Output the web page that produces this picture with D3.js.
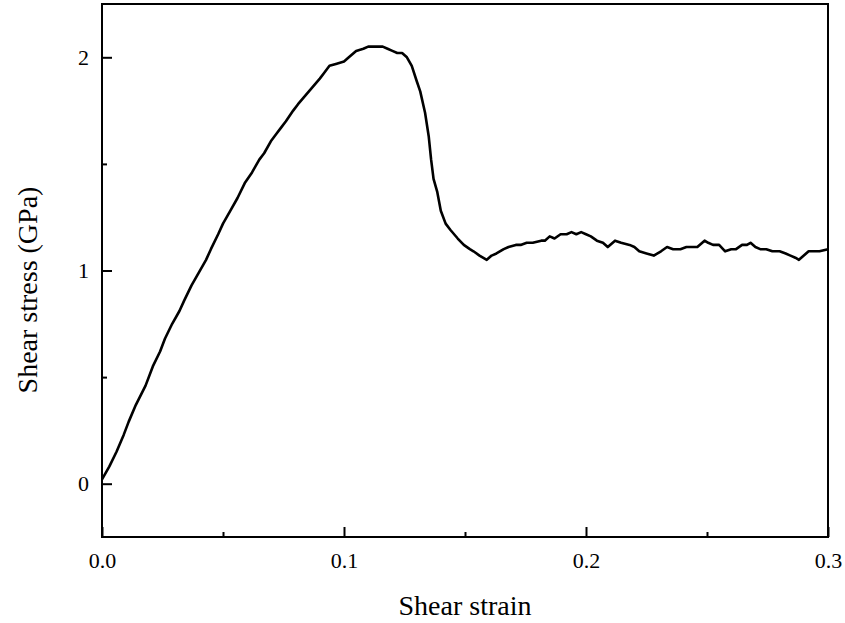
<!DOCTYPE html>
<html>
<head>
<meta charset="utf-8">
<script src="https://cdn.jsdelivr.net/npm/d3@7"></script>
<style>
  body { margin: 0; background: #fff; }
  svg text { font-family: 'Liberation Serif', serif !important; fill: #000; }
</style>
</head>
<body>
<div id="container"></div>
<script>
/* CONSTANTS AND GLOBALS */
const width = 845,
  height = 623;
const margin = { top: 4, right: 17, bottom: 86, left: 102 };
const serif = "'Liberation Serif', serif";

/* DATA */
const strain = [
  0.000, 0.003, 0.006, 0.009, 0.011, 0.014, 0.018, 0.021, 0.024, 0.026,
  0.029, 0.032, 0.034, 0.037, 0.040, 0.043, 0.045, 0.048, 0.050, 0.053,
  0.056, 0.059, 0.062, 0.065, 0.067, 0.070, 0.072, 0.074, 0.076, 0.079,
  0.081, 0.084, 0.087, 0.090, 0.092, 0.094, 0.097, 0.100, 0.102, 0.105,
  0.108, 0.110, 0.112, 0.114, 0.116, 0.118, 0.120, 0.122, 0.124, 0.126,
  0.128, 0.130, 0.1315, 0.1335, 0.135, 0.136, 0.137, 0.1385, 0.140, 0.142,
  0.144, 0.147, 0.1495, 0.152, 0.1535, 0.156, 0.159, 0.161, 0.163, 0.166,
  0.168, 0.171, 0.173, 0.1755, 0.178, 0.1815, 0.183, 0.185, 0.187, 0.1895,
  0.192, 0.194, 0.196, 0.198, 0.200, 0.202, 0.2045, 0.207, 0.209, 0.212,
  0.2145, 0.218, 0.220, 0.222, 0.225, 0.228, 0.231, 0.2335, 0.236, 0.239,
  0.2415, 0.244, 0.246, 0.249, 0.2505, 0.2525, 0.255, 0.2575, 0.260, 0.262,
  0.2645, 0.2665, 0.268, 0.270, 0.272, 0.2745, 0.277, 0.280, 0.2825, 0.2845,
  0.2865, 0.288, 0.290, 0.292, 0.294, 0.2965, 0.300
];
const stress = [
  0.02, 0.08, 0.15, 0.23, 0.29, 0.37, 0.46, 0.55, 0.62, 0.68,
  0.75, 0.81, 0.86, 0.93, 0.99, 1.05, 1.10, 1.17, 1.22, 1.28,
  1.34, 1.41, 1.46, 1.52, 1.55, 1.61, 1.64, 1.67, 1.70, 1.75,
  1.78, 1.82, 1.86, 1.90, 1.93, 1.96, 1.97, 1.98, 2.00, 2.03,
  2.04, 2.05, 2.05, 2.05, 2.05, 2.04, 2.03, 2.02, 2.02, 2.00,
  1.96, 1.89, 1.84, 1.74, 1.63, 1.52, 1.43, 1.37, 1.28, 1.22,
  1.19, 1.15, 1.12, 1.10, 1.09, 1.07, 1.05, 1.07, 1.08, 1.10,
  1.11, 1.12, 1.12, 1.13, 1.13, 1.14, 1.14, 1.16, 1.15, 1.17,
  1.17, 1.18, 1.17, 1.18, 1.17, 1.16, 1.14, 1.13, 1.11, 1.14,
  1.13, 1.12, 1.11, 1.09, 1.08, 1.07, 1.09, 1.11, 1.10, 1.10,
  1.11, 1.11, 1.11, 1.14, 1.13, 1.12, 1.12, 1.09, 1.10, 1.10,
  1.12, 1.12, 1.13, 1.11, 1.10, 1.10, 1.09, 1.09, 1.08, 1.07,
  1.06, 1.05, 1.07, 1.09, 1.09, 1.09, 1.10
];
const xTicks = [0, 0.1, 0.2, 0.3];
const xMinorTicks = [0.05, 0.15, 0.25];
const yTicks = [0, 1, 2];
const yMinorTicks = [0.5, 1.5];

/* SCALES */
const xScale = d3.scaleLinear()
  .domain([0, 0.3])
  .range([margin.left, width - margin.right]);

const yScale = d3.scaleLinear()
  .domain([-0.25, 2.25])
  .range([height - margin.bottom, margin.top]);

// SVG
const svg = d3.select("#container")
  .append("svg")
  .attr("width", width)
  .attr("height", height);

svg.append("rect")
  .attr("width", width)
  .attr("height", height)
  .attr("fill", "#fff");

// Axes (ticks point inward)
const xAxis = d3.axisBottom(xScale)
  .tickValues(xTicks)
  .tickSize(-10)
  .tickPadding(15)
  .tickFormat(d3.format(".1f"));

const xMinor = d3.axisBottom(xScale)
  .tickValues(xMinorTicks)
  .tickSize(-5)
  .tickFormat("");

const yAxis = d3.axisLeft(yScale)
  .tickValues(yTicks)
  .tickSize(-10)
  .tickPadding(13)
  .tickFormat(d3.format("d"));

const yMinor = d3.axisLeft(yScale)
  .tickValues(yMinorTicks)
  .tickSize(-5)
  .tickFormat("");

function styleAxis(g) {
  g.attr("font-family", serif);
  g.select(".domain").remove();
  g.selectAll(".tick line").attr("stroke", "#000").attr("stroke-width", 2);
  g.selectAll(".tick text")
    .attr("font-size", 22)
    .style("font-family", serif)
    .attr("fill", "#000");
}

svg.append("g")
  .attr("transform", `translate(0,${height - margin.bottom})`)
  .call(xAxis)
  .call(styleAxis);

svg.append("g")
  .attr("transform", `translate(0,${height - margin.bottom})`)
  .call(xMinor)
  .call(styleAxis);

svg.append("g")
  .attr("transform", `translate(${margin.left},0)`)
  .call(yAxis)
  .call(styleAxis);

svg.append("g")
  .attr("transform", `translate(${margin.left},0)`)
  .call(yMinor)
  .call(styleAxis);

// Curve
const points = strain.map((s, i) => ({ x: s, y: stress[i] }));
const line = d3.line()
  .x(d => xScale(d.x))
  .y(d => yScale(d.y));

svg.append("path")
  .datum(points)
  .attr("d", line)
  .attr("fill", "none")
  .attr("stroke", "#000")
  .attr("stroke-width", 2.6)
  .attr("stroke-linejoin", "round");

// Frame
svg.append("rect")
  .attr("x", margin.left)
  .attr("y", margin.top)
  .attr("width", width - margin.left - margin.right)
  .attr("height", height - margin.top - margin.bottom)
  .attr("fill", "none")
  .attr("stroke", "#000")
  .attr("stroke-width", 2);

// Axis titles
svg.append("text")
  .attr("x", (margin.left + width - margin.right) / 2)
  .attr("y", 615)
  .attr("text-anchor", "middle")
  .attr("font-size", 28)
  .style("font-family", serif)
  .text("Shear strain");

svg.append("text")
  .attr("transform", "translate(37,290)rotate(-90)")
  .attr("text-anchor", "middle")
  .attr("font-size", 28)
  .style("font-family", serif)
  .text("Shear stress (GPa)");
</script>
</body>
</html>
